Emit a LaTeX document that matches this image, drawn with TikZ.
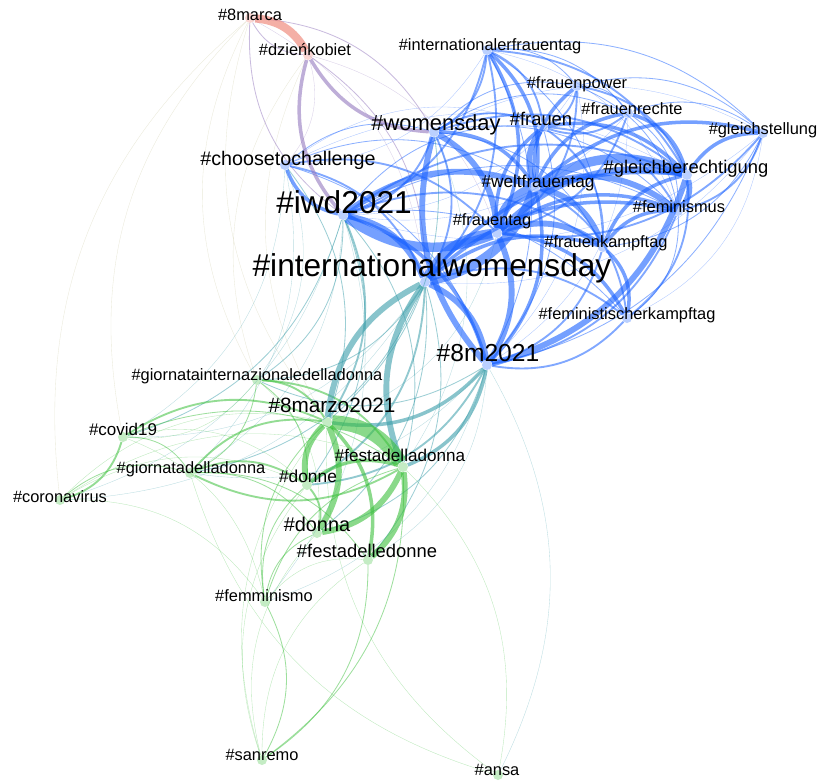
\documentclass[tikz,border=0pt]{standalone}
\usepackage{fontspec}
\setmainfont{Liberation Sans}
\definecolor{de}{HTML}{1A62FF}
\definecolor{it}{HTML}{3CC03C}
\definecolor{mx}{HTML}{3A9EAA}
\definecolor{pl}{HTML}{9478BE}
\definecolor{pk}{HTML}{EE7A6C}
\definecolor{ol}{HTML}{C4C294}
\tikzset{
  dot/.style={circle, inner sep=0pt, minimum size=0.3cm, draw=none},
  tagl/.style={inner sep=0pt, text height=0.72em, text depth=0.2em},
  sz/.style={font=\fontsize{#1}{#1}\selectfont},
  link/.style={bend left=28},
  w1/.style={link, line width=0.3pt, draw opacity=0.35},
  w2/.style={link, line width=0.7pt, draw opacity=0.5},
  w3/.style={link, line width=1.6pt, draw opacity=0.55},
  w4/.style={link, line width=3pt, draw opacity=0.6},
  w5/.style={link, line width=5pt, draw opacity=0.6},
  w6/.style={link, line width=8pt, draw opacity=0.6},
}
\newcommand{\links}[2]{\foreach \a/\b in {#2} {\draw[#1] (\a) to (\b);}}

\begin{document}
\begin{tikzpicture}[x=0.03cm,y=-0.03cm]
  \fill[white] (0,0) rectangle (818,781);
  \useasboundingbox (0,0) rectangle (818,781);
  % hashtag positions
  \foreach \n/\x/\y/\c in {marca/250/18/pk, dzien/308/55/pk,
      ift/487/50/de, fpow/577/86/de, frecht/628/113/de, frauen/543/127/de,
      wday/434/132/de, gstell/763/133/de, cchal/285/165/de, gberech/687/175/de,
      welt/535/187/de, femis/678/211/de, iwd/343/215/de, ftag/497/233/de,
      fkampf/603/247/de, intl/425/282/de, fkpt/627/318/de, m21/487/365/de,
      giorint/257/380/it, marzo/327/422/it, covid/123/437/it, festa/403/467/it,
      giorn/190/473/it, donne/307/485/it, corona/60/500/it, donna/317/533/it,
      fested/368/560/it, femmin/265/602/it, sanremo/262/760/it, ansa/498/775/it}
    \node[dot, fill=\c!30] (\n) at (\x,\y) {};

  % faint links
  \links{ol, w1}{corona/marca, giorint/marca, covid/marca, marzo/marca, giorint/dzien, marzo/dzien}
  \links{de, w1}{ift/cchal, gstell/intl, gstell/iwd, fpow/iwd, frecht/iwd, fpow/m21, frecht/m21,
      cchal/frauen, cchal/gberech, wday/gstell, gstell/fkpt, ift/femis}
  \links{mx, w1}{cchal/giorint, cchal/covid, iwd/giorn, intl/covid, m21/fested, m21/ansa,
      iwd/corona, intl/corona, iwd/femmin, m21/femmin, cchal/giorn, wday/festa, ftag/marzo, m21/giorn}
  \links{it, w1}{corona/marzo, corona/festa, corona/donne, covid/donne, sanremo/marzo, sanremo/donne,
      sanremo/fested, ansa/giorn, festa/ansa, ansa/marzo, femmin/fested, corona/femmin,
      covid/femmin, giorint/covid, giorint/donna, sanremo/donna}
  \links{pl, w1}{marca/intl, dzien/cchal, dzien/ftag}

  % light links
  \links{de, w2}{fpow/frecht, fpow/gstell, frecht/gstell, ift/fpow, ift/frecht, ift/gstell, ift/m21,
      cchal/welt, cchal/wday, cchal/m21, iwd/femis, iwd/frauen, iwd/fkpt, wday/femis, wday/fkampf,
      gstell/fkampf, gstell/m21, femis/fkpt, frauen/m21, fpow/femis, frecht/femis, ift/fkampf,
      wday/fpow, wday/frecht}
  \links{mx, w2}{iwd/giorint, intl/giorint, iwd/festa, m21/donna, intl/donna, intl/giorn,
      iwd/covid, m21/giorint, intl/fested, iwd/donne, wday/marzo, cchal/marzo}
  \links{it, w2}{giorn/donna, giorn/fested, giorint/donne, corona/giorn, covid/giorn,
      femmin/marzo, femmin/festa, femmin/donne, femmin/donna, femmin/sanremo, festa/sanremo,
      covid/festa, giorint/giorn, fested/sanremo}
  \links{pl, w2}{dzien/marca, marca/wday, dzien/intl, iwd/marca}

  % medium links
  \links{de, w3}{ift/wday, ift/frauen, ift/gberech, ift/intl, ift/iwd, fpow/frauen, fpow/ftag,
      fpow/gberech, frecht/ftag, frecht/frauen, gstell/femis, gstell/ftag, femis/m21, fkampf/m21,
      fkpt/m21, gberech/fkpt, welt/fkpt, intl/fkpt, cchal/intl, cchal/ftag, wday/iwd, wday/intl,
      wday/frauen, wday/gberech, frauen/fkampf, frauen/femis, iwd/gberech, iwd/fkampf}
  \links{mx, w3}{iwd/marzo, m21/donne, intl/donne}
  \links{it, w3}{covid/marzo, covid/corona, festa/giorn, giorint/marzo, giorn/donne,
      donne/donna, giorint/festa, giorn/marzo}

  % strong links
  \links{de, w4}{welt/fpow, ftag/frauen, frauen/gberech, welt/frecht, frecht/gberech, wday/welt,
      welt/gstell, gberech/gstell, ftag/femis, fkampf/femis, fkampf/gberech, ftag/fkpt,
      fkampf/fkpt, intl/fkampf, welt/m21, ift/welt, ift/ftag, iwd/cchal, iwd/m21,
      intl/gberech, intl/femis}
  \links{mx, w4}{m21/marzo, m21/festa}
  \links{it, w4}{marzo/fested, donne/festa}
  \links{pl, w4}{iwd/dzien, wday/dzien}

  % heaviest links
  \links{de, w5}{iwd/welt, ftag/gberech, welt/frauen, ftag/fkampf, welt/femis, gberech/femis,
      intl/m21, wday/ftag, ftag/m21, welt/fkampf, gberech/m21, m21/wday, iwd/intl}
  \links{mx, w5}{marzo/intl, festa/intl}
  \links{it, w5}{donne/marzo, festa/fested, marzo/donna, festa/donna}
  \links{pk, w6, line width=7pt}{marca/dzien}
  \links{de, w6}{ftag/welt, welt/gberech, intl/ftag, ftag/iwd, welt/intl}
  \draw[it, w6, line width=12pt] (marzo) to (festa);

  % labels
  \foreach \n/\x/\y/\s/\t in {marca/250/17/14/{\#8marca}, dzien/305/52/14/{\#dzieńkobiet},
      ift/490/47/14/{\#internationalerfrauentag}, fpow/577/85/14/{\#frauenpower},
      frecht/632/111/14/{\#frauenrechte}, frauen/541/122/15.7/{\#frauen},
      wday/436/127/18.7/{\#womensday}, gstell/763/131/14/{\#gleichstellung},
      cchal/288/162/16.8/{\#choosetochallenge}, gberech/686/170/15.7/{\#gleichberechtigung},
      welt/538/184/14.7/{\#weltfrauentag}, femis/679/209/14/{\#feminismus},
      iwd/344/210/27/{\#iwd2021}, ftag/492/222/14/{\#frauentag},
      fkampf/606/244/14/{\#frauenkampftag}, intl/432/273/27/{\#internationalwomensday},
      fkpt/627/316/14/{\#feministischerkampftag}, m21/488/358/21/{\#8m2021},
      giorint/257/377/14/{\#giornatainternazionaledelladonna}, marzo/332/409/17.7/{\#8marzo2021},
      covid/123/432/14.5/{\#covid19}, festa/400/458/14.6/{\#festadelladonna},
      giorn/191/470/14/{\#giornatadelladonna}, donne/308/479/14.8/{\#donne},
      corona/60/499/14/{\#coronavirus}, donna/317/528/17/{\#donna},
      fested/367/554/15.7/{\#festadelledonne}, femmin/264/598/14/{\#femminismo},
      sanremo/262/757/14/{\#sanremo}, ansa/497/772/14/{\#ansa}}
    \node[tagl, sz=\s] (\n-l) at (\x,\y) {\t};
\end{tikzpicture}
\end{document}
